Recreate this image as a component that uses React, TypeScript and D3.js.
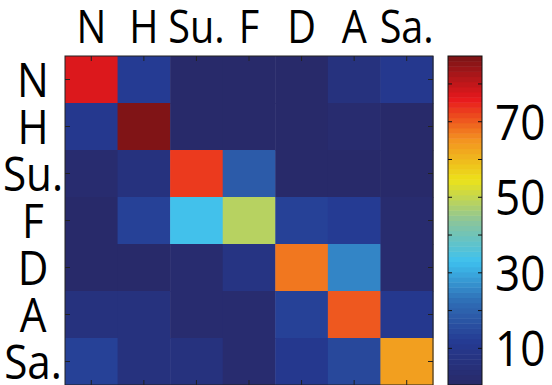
import React from "react";
import * as d3 from "d3";

// Confusion matrix (jet colormap, 64 levels) with a colorbar on the right.
const labels = ["N", "H", "Su.", "F", "D", "A", "Sa."];
const rowN = [77, 12, 1.5, 1.5, 1.5, 6, 11];
const rowH = [11, 87.4, 1.2, 1, 1, 2.5, 1.5];
const rowSu = [2.5, 7, 73, 19, 1, 1.5, 1];
const rowF = [1.5, 13, 33, 48, 13, 12, 2.5];
const rowD = [1.2, 1, 2.5, 8, 67, 25, 2];
const rowA = [7, 7, 2.5, 2.5, 13, 71, 11];
const rowSa = [13, 7, 6, 2.5, 10, 14, 63];
const matrix = [rowN, rowH, rowSu, rowF, rowD, rowA, rowSa];
const cbTicks = [10, 20, 30, 40, 50, 60, 70, 80];
const cbLabels = [10, 30, 50, 70];
const vMin = 0.3;
const vMax = 87.4;

const jetStops = ["#282a6a", "#253a92", "#2f6db5", "#3ec1ef", "#8cc59a", "#ece21a", "#f39220", "#e8191d", "#801416"];

// narrow text, mimicking the condensed sans of the original
function Label({ x, y, anchor, size, children }: { x: number; y: number; anchor: string; size: number; children: React.ReactNode }) {
  return (
    <text
      transform={`translate(${x},${y}) scale(0.88,1)`}
      textAnchor={anchor}
      fontFamily="'Open Sans', sans-serif"
      fontSize={size}
      fill="#000"
    >
      {children}
    </text>
  );
}

export default function App() {
  const W = 552;
  const H = 385;
  const left = 65, top = 56, right = 433, bottom = 385;
  const cbX0 = 448, cbX1 = 482;

  const x = d3.scaleBand<string>().domain(labels).range([left, right]);
  const y = d3.scaleBand<string>().domain(labels).range([top, bottom]);

  const stopScale = d3
    .scaleLinear<string>()
    .domain(jetStops.map((_, i) => i / (jetStops.length - 1)))
    .range(jetStops)
    .interpolate(d3.interpolateRgb);
  const N = 64;
  const palette = d3.range(N).map((i) => stopScale(i / (N - 1)));
  const color = (v: number) => {
    const idx = Math.min(N - 1, Math.max(0, Math.floor(((v - vMin) / (vMax - vMin)) * N)));
    return palette[idx];
  };

  const cbY = d3.scaleLinear().domain([vMin, vMax]).range([bottom, top]);
  const bandH = (cbY(vMin) - cbY(vMax)) / N;

  const cells = matrix.flatMap((row, r) =>
    row.map((v, c) => ({ r: labels[r], c: labels[c], v }))
  );

  return (
    <div style={{ position: "absolute", left: 0, top: 0 }}>
      <svg width={W} height={H} style={{ display: "block", background: "#fff" }}>
        {cells.map((d, i) => (
          <rect
            key={i}
            x={x(d.c)}
            y={y(d.r)}
            width={x.bandwidth() + 0.5}
            height={y.bandwidth() + 0.5}
            fill={color(d.v)}
          />
        ))}
        {/* axes box */}
        <rect x={left} y={top} width={right - left} height={bottom - top} fill="none" stroke="#222" strokeWidth={1} />
        {labels.map((l) => (
          <g key={"t" + l} stroke="#222" strokeWidth={1}>
            <line x1={x(l)! + x.bandwidth() / 2} x2={x(l)! + x.bandwidth() / 2} y1={top} y2={top + 5} />
            <line x1={x(l)! + x.bandwidth() / 2} x2={x(l)! + x.bandwidth() / 2} y1={bottom} y2={bottom - 5} />
            <line x1={left} x2={left + 5} y1={y(l)! + y.bandwidth() / 2} y2={y(l)! + y.bandwidth() / 2} />
            <line x1={right} x2={right - 5} y1={y(l)! + y.bandwidth() / 2} y2={y(l)! + y.bandwidth() / 2} />
          </g>
        ))}
        {labels.map((l) => (
          <Label key={"xl" + l} x={x(l)! + x.bandwidth() / 2} y={43} anchor="middle" size={45}>
            {l}
          </Label>
        ))}
        {labels.map((l) => (
          <Label key={"yl" + l} x={33} y={y(l)! + y.bandwidth() / 2 + 17} anchor="middle" size={48}>
            {l}
          </Label>
        ))}
        {/* colorbar */}
        {palette.map((c, i) => (
          <rect
            key={"cb" + i}
            x={cbX0}
            y={cbY(vMin) - (i + 1) * bandH}
            width={cbX1 - cbX0}
            height={bandH + 0.5}
            fill={c}
          />
        ))}
        <rect x={cbX0} y={top} width={cbX1 - cbX0} height={bottom - top} fill="none" stroke="#111" strokeWidth={1} />
        {cbTicks.map((t) => (
          <g key={"cbt" + t} stroke="#111" strokeWidth={1}>
            <line x1={cbX0} x2={cbX0 + 4} y1={cbY(t)} y2={cbY(t)} />
            <line x1={cbX1} x2={cbX1 - 4} y1={cbY(t)} y2={cbY(t)} />
          </g>
        ))}
        {cbLabels.map((t) => (
          <Label key={"cbl" + t} x={495} y={cbY(t) + 18} anchor="start" size={50}>
            {t}
          </Label>
        ))}
      </svg>
    </div>
  );
}
